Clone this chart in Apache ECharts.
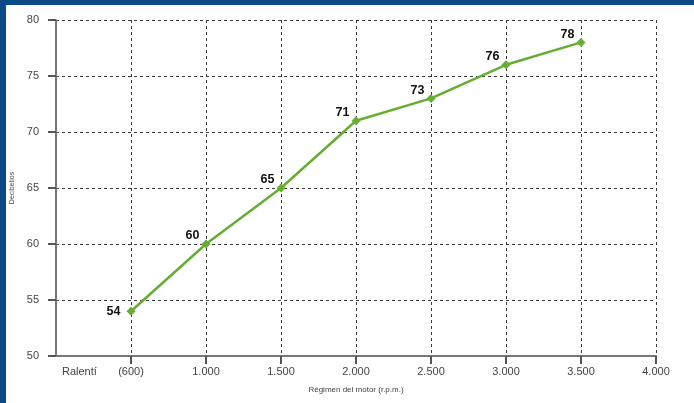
<!DOCTYPE html>
<html>
<head>
<meta charset="utf-8">
<script src="https://cdn.jsdelivr.net/npm/echarts@6/dist/echarts.min.js"></script>
<style>
  html, body { margin: 0; padding: 0; background: #fff; }
  #frame { position: relative; width: 694px; height: 403px; background: #0b4a86; overflow: hidden; }
  #chart { position: absolute; left: 6px; top: 5px; width: 688px; height: 398px; background: #fff; }
</style>
</head>
<body>
<div id="frame"><div id="chart"></div></div>
<script>
// régimen del motor (r.p.m.) -- first slot is empty so the axis starts left of ralentí
const rpmLabels = ['', '(600)', '1.000', '1.500', '2.000', '2.500', '3.000', '3.500', '4.000']
const decibels = [null, 54, 60, 65, 71, 73, 76, 78, null]
const yTicks = { min: 50, max: 80, step: 5 }

const chart = echarts.init(document.getElementById('chart'))

const green = '#66ad33'
const gridLine = { show: true, lineStyle: { color: '#3a3a3a', type: [3, 3], width: 1 } }

chart.setOption({
  animation: false,
  grid: { left: 50, right: 38, top: 15, bottom: 47, outerBoundsMode: 'none', containLabel: false },
  xAxis: {
    type: 'category',
    data: rpmLabels,
    boundaryGap: false,
    name: 'Régimen del motor (r.p.m.)',
    nameLocation: 'middle',
    nameGap: 30,
    nameTextStyle: { fontSize: 8, color: '#444', fontFamily: 'Liberation Sans' },
    axisLine: { lineStyle: { color: '#777', width: 2 } },
    axisTick: { show: true, alignWithLabel: true, length: 8, lineStyle: { color: '#555', width: 2 },
      interval: (i) => i > 0 },
    axisLabel: { color: '#444', fontSize: 11, fontFamily: 'Liberation Sans', margin: 10, interval: 0 },
    splitLine: gridLine
  },
  yAxis: {
    type: 'value',
    min: yTicks.min,
    max: yTicks.max,
    interval: yTicks.step,
    name: 'Decibelios',
    nameLocation: 'middle',
    nameGap: 38,
    nameRotate: 90,
    nameTextStyle: { fontSize: 7, color: '#444', fontFamily: 'Liberation Sans' },
    axisLine: { show: true, lineStyle: { color: '#777', width: 2 } },
    axisTick: { show: true, length: 8, lineStyle: { color: '#555', width: 2 } },
    axisLabel: { color: '#444', fontSize: 11, fontFamily: 'Liberation Sans', margin: 17 },
    splitLine: gridLine
  },
  graphic: [{
    type: 'text',
    left: 56, top: 361,
    style: { text: 'Ralentí', fontSize: 11, fill: '#444', fontFamily: 'Liberation Sans' }
  }],
  series: [{
    type: 'line',
    data: decibels.map((v, i) => ({
      value: v,
      label: i === 1
        ? { position: 'left', offset: [0, 0] }
        : { position: 'left', offset: [4, -8] }
    })),
    symbol: 'diamond',
    symbolSize: 9,
    lineStyle: { color: green, width: 2.5 },
    itemStyle: { color: green },
    label: {
      show: true,
      color: '#111',
      fontWeight: 'bold',
      fontSize: 12.5,
      fontFamily: 'Liberation Sans',
      distance: 6
    }
  }]
})
</script>
</body>
</html>
